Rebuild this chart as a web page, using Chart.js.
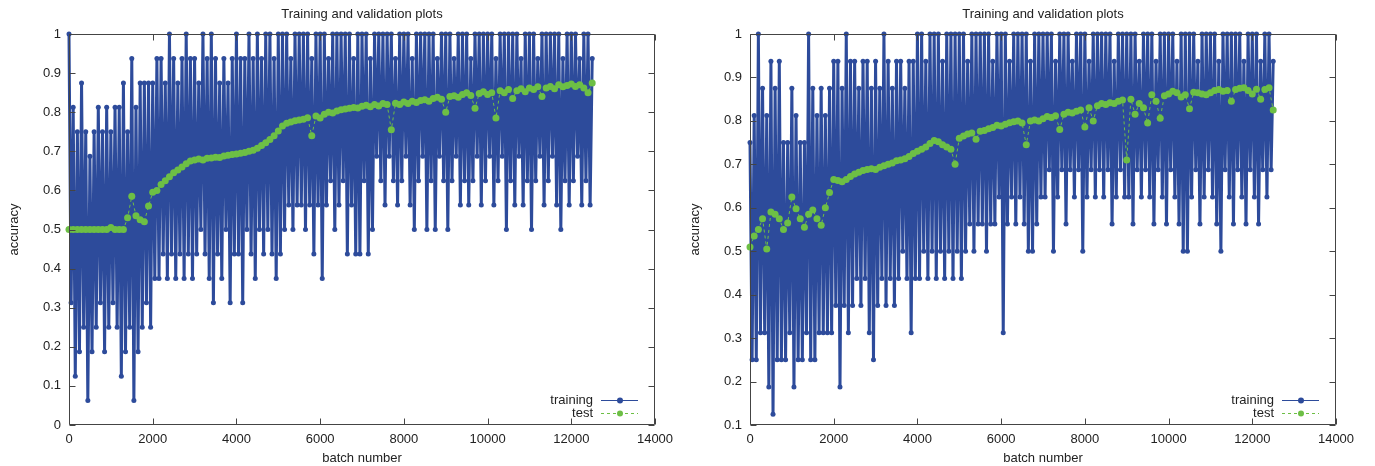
<!DOCTYPE html>
<html>
<head>
<meta charset="utf-8">
<title>Training and validation plots</title>
<script src="https://cdn.jsdelivr.net/npm/chart.js@4.4.0/dist/chart.umd.min.js"></script>
<style>
html,body{margin:0;padding:0;background:#fff;overflow:hidden;width:1375px;height:466px;}
canvas{position:absolute;top:0;}
#left{left:0;}
#right{left:681px;}
</style>
</head>
<body>
<canvas id="left" width="724" height="466"></canvas>
<canvas id="right" width="724" height="466"></canvas>
<script>
// ===================== Daten =====================
// training: correct answers out of 16 per batch, one reading every 50 batches
const trainStep = 50;
const testStep = 100;
const batchSize = 16;

const xTicks = [0, 2000, 4000, 6000, 8000, 10000, 12000, 14000];
const yTicksLeft = [0, 0.1, 0.2, 0.3, 0.4, 0.5, 0.6, 0.7, 0.8, 0.9, 1];
const yTicksRight = [0.1, 0.2, 0.3, 0.4, 0.5, 0.6, 0.7, 0.8, 0.9, 1];

const leftTrainHits = [
  16,5,13,2,12,3,14,4,12,1,      // 0-450
  11,3,12,4,13,5,12,3,13,4,      // 500-950
  12,5,13,4,13,2,14,3,12,4,      // 1000-1450
  15,1,13,3,14,4,14,5,14,4,      // 1500-1950
  14,6,15,6,15,7,14,6,16,7,      // 2000-2450
  15,6,14,7,15,6,16,7,15,6,      // 2500-2950
  15,7,14,8,16,7,15,6,16,5,      // 3000-3450
  15,7,14,6,15,8,14,5,15,7,      // 3500-3950
  16,7,15,5,15,8,16,7,15,6,      // 4000-4450
  16,8,15,7,16,8,16,7,15,6,      // 4500-4950
  16,7,16,8,16,9,15,8,16,9,      // 5000-5450
  16,9,16,8,16,9,15,7,16,9,      // 5500-5950
  16,6,16,9,15,10,16,8,16,9,     // 6000-6450
  16,10,16,7,16,9,15,7,16,7,     // 6500-6950
  16,10,16,7,15,8,16,11,16,10,   // 7000-7450
  16,9,16,11,16,10,15,9,16,10,   // 7500-7950
  16,11,16,9,15,8,16,10,16,11,   // 8000-8450
  16,8,16,10,16,8,15,11,16,10,   // 8500-8950
  16,8,16,10,15,11,16,9,16,10,   // 9000-9450
  16,9,15,10,16,11,16,9,16,10,   // 9500-9950
  16,11,16,9,15,10,16,11,16,8,   // 10000-10450
  16,10,16,9,16,11,15,9,16,10,   // 10500-10950
  16,8,16,10,15,11,16,9,16,10,   // 11000-11450
  16,11,16,9,16,8,15,10,16,9,    // 11500-11950
  16,10,16,11,15,9,16,10,16,9,   // 12000-12450
  15                             // 12500
];

const rightTrainHits = [
  12,4,13,4,16,5,14,5,13,3,      // 0-450
  15,2,14,4,15,4,12,4,12,5,      // 500-950
  14,3,13,4,12,4,12,5,16,4,      // 1000-1450
  14,4,13,5,14,5,13,5,14,5,      // 1500-1950
  15,6,15,3,14,6,16,5,15,6,      // 2000-2450
  15,7,14,6,15,7,15,5,14,4,      // 2500-2950
  15,6,14,7,16,6,15,7,14,6,      // 3000-3450
  15,7,15,8,14,7,15,5,15,7,      // 3500-3950
  16,7,16,8,15,7,16,8,16,7,      // 4000-4450
  16,8,15,7,16,8,16,7,16,8,      // 4500-4950
  16,7,16,8,15,9,16,8,16,9,      // 5000-5450
  16,9,16,8,16,9,15,9,16,10,     // 5500-5950
  16,5,16,9,15,10,16,9,16,10,    // 6000-6450
  16,9,16,8,15,8,16,9,16,10,     // 6500-6950
  16,10,16,11,16,8,15,10,16,11,  // 7000-7450
  16,9,16,11,15,10,16,11,16,8,   // 7500-7950
  16,10,15,11,16,10,16,11,16,10, // 8000-8450
  16,11,16,9,15,10,16,11,16,10,  // 8500-8950
  16,10,16,9,16,11,15,10,16,11,  // 9000-9450
  16,10,16,9,15,11,16,10,16,9,   // 9500-9950
  16,11,16,10,15,9,16,8,16,8,    // 10000-10450
  16,10,16,11,15,9,16,10,16,11,  // 10500-10950
  16,10,16,9,15,8,16,11,16,10,   // 11000-11450
  16,9,16,11,16,10,15,9,16,11,   // 11500-11950
  16,10,16,9,15,11,16,10,16,11,  // 12000-12450
  15                             // 12500
];

// test accuracy, one reading every 100 batches
const leftTest = [
  0.5,0.5,0.5,0.5,0.5,0.5,0.5,0.5,0.5,0.5,
  0.505,0.5,0.5,0.5,0.53,0.585,0.535,0.525,0.52,0.56,
  0.595,0.6,0.615,0.625,0.635,0.645,0.652,0.66,0.668,0.675,
  0.678,0.68,0.678,0.682,0.683,0.685,0.684,0.688,0.69,0.692,
  0.693,0.695,0.697,0.7,0.703,0.708,0.715,0.722,0.73,0.74,
  0.752,0.765,0.772,0.775,0.778,0.78,0.782,0.786,0.74,0.79,
  0.785,0.795,0.8,0.798,0.803,0.806,0.808,0.81,0.812,0.811,
  0.815,0.818,0.814,0.82,0.816,0.822,0.82,0.755,0.823,0.82,
  0.826,0.822,0.828,0.825,0.83,0.832,0.828,0.835,0.838,0.833,
  0.8,0.84,0.842,0.838,0.845,0.85,0.843,0.81,0.848,0.852,
  0.845,0.85,0.785,0.855,0.85,0.858,0.835,0.855,0.86,0.852,
  0.862,0.858,0.865,0.84,0.862,0.866,0.86,0.87,0.865,0.868,
  0.872,0.866,0.87,0.862,0.85,0.875
];

const rightTest = [
  0.51,0.535,0.55,0.575,0.505,0.59,0.585,0.575,0.55,0.565,
  0.625,0.598,0.575,0.555,0.585,0.595,0.575,0.56,0.6,0.635,
  0.665,0.663,0.66,0.665,0.672,0.678,0.682,0.686,0.688,0.69,
  0.688,0.693,0.697,0.7,0.703,0.708,0.71,0.713,0.718,0.725,
  0.73,0.735,0.74,0.748,0.755,0.752,0.745,0.74,0.735,0.7,
  0.76,0.765,0.77,0.772,0.758,0.776,0.778,0.782,0.785,0.79,
  0.788,0.792,0.796,0.798,0.8,0.795,0.745,0.8,0.802,0.8,
  0.805,0.81,0.808,0.812,0.78,0.815,0.82,0.818,0.822,0.825,
  0.786,0.83,0.8,0.835,0.84,0.838,0.842,0.84,0.845,0.848,
  0.71,0.85,0.815,0.84,0.83,0.795,0.86,0.845,0.806,0.858,
  0.862,0.868,0.865,0.855,0.86,0.828,0.866,0.865,0.862,0.86,
  0.865,0.87,0.872,0.868,0.87,0.845,0.872,0.875,0.876,0.87,
  0.862,0.873,0.85,0.872,0.876,0.825
];

// ===================== Stil =====================
const BLUE = "#2d4b9b";
const GREEN = "#6dbf45";
const INK = "#222";
const FONT = {family: '"Liberation Sans", Arial, Helvetica, sans-serif', size: 13, weight: 'normal'};

// gnuplot style frame with inward ticks on all four sides
const framePlugin = {
  id: 'frame',
  afterDatasetsDraw(chart){
    const {ctx, chartArea: a, scales} = chart;
    const L = Math.round(a.left)+0.5, R = Math.round(a.right)-0.5;
    const T = Math.round(a.top)+0.5, B = Math.round(a.bottom)-0.5;
    ctx.save();
    ctx.strokeStyle = "#444";
    ctx.lineWidth = 1;
    ctx.beginPath();
    ctx.rect(L, T, R-L, B-T);
    scales.x.ticks.forEach(t=>{
      const px = Math.round(scales.x.getPixelForValue(t.value))+0.5;
      ctx.moveTo(px, B); ctx.lineTo(px, B-6);
      ctx.moveTo(px, T); ctx.lineTo(px, T+6);
    });
    scales.y.ticks.forEach(t=>{
      const py = Math.round(scales.y.getPixelForValue(t.value))+0.5;
      ctx.moveTo(L, py); ctx.lineTo(L+6, py);
      ctx.moveTo(R, py); ctx.lineTo(R-6, py);
    });
    ctx.stroke();
    ctx.restore();
  }
};

// legend in the lower right corner: text, then line sample with a dot
const keyPlugin = {
  id: 'key',
  afterDraw(chart){
    const {ctx, chartArea: a} = chart;
    ctx.save();
    chart.data.datasets.forEach((ds,k)=>{
      const y = a.bottom - 25 + k*13;
      ctx.font = `${FONT.size}px ${FONT.family}`;
      ctx.fillStyle = INK;
      ctx.textAlign = "right";
      ctx.textBaseline = "middle";
      ctx.fillText(ds.label, a.right - 62, y);
      ctx.strokeStyle = ds.borderColor;
      ctx.lineWidth = 1;
      ctx.setLineDash(ds.borderDash || []);
      ctx.beginPath();
      ctx.moveTo(a.right - 54, y+0.5);
      ctx.lineTo(a.right - 17, y+0.5);
      ctx.stroke();
      ctx.setLineDash([]);
      ctx.fillStyle = ds.pointBackgroundColor;
      ctx.beginPath();
      ctx.arc(a.right - 35, y+0.5, 3, 0, Math.PI*2);
      ctx.fill();
    });
    ctx.restore();
  }
};

// ===================== Charts =====================
function makeChart(id, trainHits, testAcc, yTicks){
  const trainData = trainHits.map((h,i)=>({x: i*trainStep, y: h/batchSize}));
  const testData = testAcc.map((v,i)=>({x: i*testStep, y: v}));
  return new Chart(document.getElementById(id), {
    type: 'line',
    data: {
      datasets: [
        {label: "training", data: trainData, order: 1, borderColor: BLUE, borderWidth: 3,
         pointRadius: 2.5, pointBackgroundColor: BLUE, pointBorderWidth: 0, tension: 0, clip: false},
        {label: "test", data: testData, order: 0, borderColor: GREEN, borderWidth: 1, borderDash: [3,3],
         pointRadius: 3.5, pointBackgroundColor: GREEN, pointBorderWidth: 0, tension: 0, clip: false}
      ]
    },
    options: {
      responsive: false,
      animation: false,
      devicePixelRatio: 1,
      layout: {padding: 0},
      plugins: {
        legend: {display: false},
        tooltip: {enabled: false},
        title: {display: true, text: "Training and validation plots", color: INK, font: FONT,
                padding: {top: 7, bottom: 11.4}}
      },
      scales: {
        x: {
          type: 'linear', min: 0, max: 14000,
          afterBuildTicks: s=>{ s.ticks = xTicks.map(v=>({value: v})); },
          afterFit: s=>{ s.height = 41; },
          grid: {display: false, drawTicks: false},
          border: {display: false},
          ticks: {padding: 7, color: INK, font: FONT, maxRotation: 0, autoSkip: false, callback: v=>String(v)},
          title: {display: true, text: "batch number", color: INK, font: FONT, padding: {top: 0, bottom: 0}}
        },
        y: {
          type: 'linear', min: yTicks[0], max: 1,
          afterBuildTicks: s=>{ s.ticks = yTicks.map(v=>({value: v})); },
          afterFit: s=>{ s.width = 69; },
          grid: {display: false, drawTicks: false},
          border: {display: false},
          ticks: {padding: 8, color: INK, font: FONT, autoSkip: false, callback: v=>String(v)},
          title: {display: true, text: "accuracy", color: INK, font: FONT, padding: {top: 7, bottom: 0}}
        },
        // empty right margin, same width as the left axis, keeps the title centred on the plot
        side: {
          type: 'linear', position: 'right', min: 0, max: 1,
          afterFit: s=>{ s.width = 69; },
          grid: {display: false, drawTicks: false},
          border: {display: false},
          ticks: {display: false}
        }
      }
    },
    plugins: [framePlugin, keyPlugin]
  });
}

makeChart("left", leftTrainHits, leftTest, yTicksLeft);
makeChart("right", rightTrainHits, rightTest, yTicksRight);
</script>
</body>
</html>
